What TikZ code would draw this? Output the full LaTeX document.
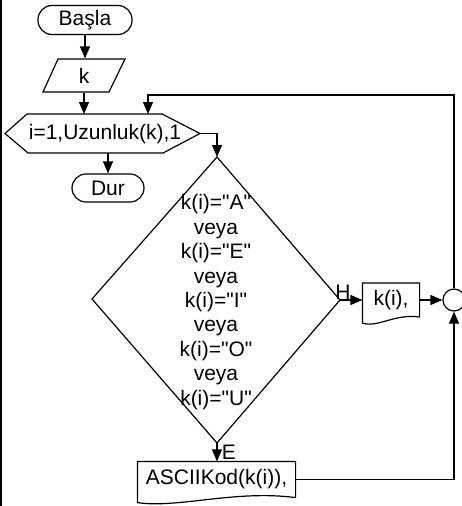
\documentclass[tikz,border=0pt]{standalone}
\usepackage{fontspec}
\setmainfont{Liberation Sans}[Ligatures=TeXOff]
\usetikzlibrary{arrows.meta}

\tikzset{
  every node/.style={font=\fontsize{21}{24.4}\selectfont, inner sep=0pt},
  term/.style={draw, rounded corners=14pt, minimum height=29pt},
  arr/.style={-{Triangle[length=12pt,width=10pt]}},
}

\begin{document}
\begin{tikzpicture}[x=1pt,y=-1pt,line width=1.2pt]
    \useasboundingbox (0,0) rectangle (461,506);
    \draw[line width=1.5pt] (1,0) -- (1,506);

    \node[term, minimum width=94pt] (start) at (85,20) {Başla};
    \node[minimum width=50pt, minimum height=33pt] (k) at (84,75.5) {k};
    \draw (43,92) -- (58,59) -- (125,59) -- (109,92) -- cycle;

    % loop hexagon
    \coordinate (hL) at (5,133.5);
    \coordinate (hTL) at (27,114);
    \coordinate (hTR) at (162,114);
    \coordinate (hR) at (200,133.5);
    \coordinate (hBR) at (163,153);
    \coordinate (hBL) at (28,153);
    \draw (hL) -- (hTL) -- (hTR) -- (hR) -- (hBR) -- (hBL) -- cycle;
    \node (loop) at (105,134) {i=1,Uzunluk(k),1};
    \node[term, minimum width=72pt, minimum height=28pt] (stop) at (108,188) {Dur};

    % decision
    \coordinate (dT) at (217,157);
    \coordinate (dR) at (340,300);
    \coordinate (dB) at (217,443);
    \coordinate (dL) at (92,299);
    \draw (dT) -- (dR) -- (dB) -- (dL) -- cycle;
    \node[align=center] (cond) at (216,302) {k(i)="A"\\veya\\k(i)="E"\\veya\\k(i)="I"\\veya\\k(i)="O"\\veya\\k(i)="U"};
    \node (lblH) at (343,292) {H};
    \node (lblE) at (229,452) {E};

    % outputs
    \node[minimum width=56pt, minimum height=33pt] (prt) at (391,300) {k(i),};
    \draw (prt.south east) -- (prt.north east) -- (prt.north west) -- ([yshift=-6pt]prt.south west)
        .. controls +(15,5) and +(-24,-4) .. (prt.south east);
    \node[minimum width=157pt, minimum height=35pt] (asc) at (216.5,479.5) {ASCIIKod(k(i)),};
    \draw (asc.south east) -- (asc.north east) -- (asc.north west) -- ([yshift=-5pt]asc.south west)
        .. controls +(40,6) and +(-60,-8) .. (asc.south east);
    \node[draw, circle, minimum size=22pt] (jn) at (454,300) {};
    \coordinate (back) at (148,95);

    \draw[arr] (start.south) -- (start.south |- k.north);
    \draw[arr] (k.south) -- (k.south |- hTL);
    \draw[arr] (stop.north |- hBL) -- (stop.north);
    \draw[arr] (hR) -| (dT);
    \draw[arr] (dR) -- (prt.west);
    \draw[arr] (prt.east) -- (jn.west);
    \draw[arr] (dB) -- (dB |- asc.north);
    \draw[arr] (asc.east) -| (jn.south);
    \draw[arr] (jn.north) |- (back) -- (back |- hTL);
\end{tikzpicture}
\end{document}
